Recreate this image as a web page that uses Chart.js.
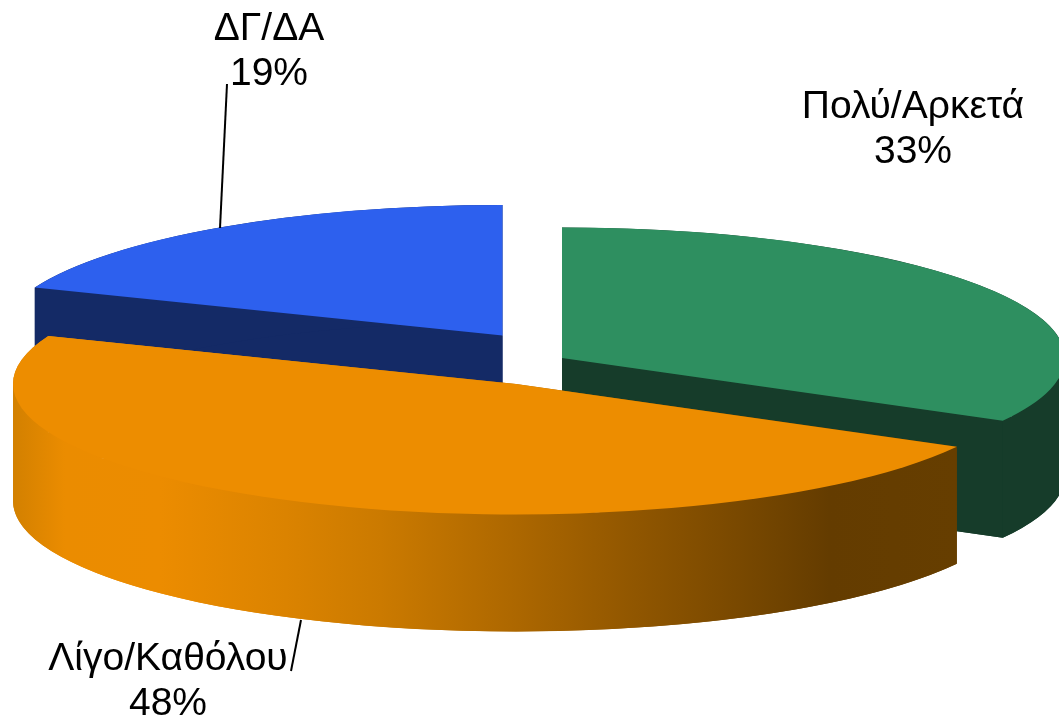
<!DOCTYPE html>
<html>
<head>
<meta charset="utf-8">
<style>html,body{margin:0;padding:0;background:#fff}canvas{display:block}</style>
<script src="https://cdn.jsdelivr.net/npm/chart.js@4"></script>
</head>
<body>
<canvas id="c" width="1059" height="719"></canvas>
<script>
const categories = ['Πολύ/Αρκετά', 'Λίγο/Καθόλου', 'ΔΓ/ΔΑ'];
const values = [33, 48, 19];
const topColors = ['#2E8F60', '#ED8D00', '#2D60EE'];
const wallColors = ['#163C2A', null, '#142A66'];

// 3D look of the drawing (style, not data)
const RX = 503, RY = 130.5, DEPTH = 117;
const sliceCentres = [[562, 358], [516, 384], [502.5, 335.5]];
const paintOrder = [0, 2, 1];
const labelAnchors = [
  {x: 913, y: 118, lead: null},
  {x: 168, y: 670, lead: [[301, 620], [291, 671]]},
  {x: 269, y: 40, lead: [[227, 84], [220, 228]]}
];
const LINE_GAP = 45;

function orangeWall(ctx) {
  const g = ctx.createLinearGradient(12, 0, 957, 0);
  [[0, '#D28000'], [0.056, '#EB8C00'], [0.157, '#EC8C00'], [0.29, '#DB8300'], [0.39, '#CB7A00'],
   [0.527, '#AE6800'], [0.66, '#905600'], [0.797, '#734500'], [0.865, '#643C00'], [1, '#663E00']]
    .forEach(s => g.addColorStop(s[0], s[1]));
  return g;
}

const pie3d = {
  id: 'pie3d',
  beforeDatasetsDraw(chart) {
    const ctx = chart.ctx;
    const arcs = chart.getDatasetMeta(0).data;
    paintOrder.forEach(i => {
      const arc = arcs[i];
      const [cx, cy] = sliceCentres[i];
      const a0 = arc.startAngle, a1 = arc.endAngle;
      const px = a => cx + RX * Math.cos(a), py = a => cy + RY * Math.sin(a);
      ctx.save();
      ctx.fillStyle = wallColors[i] || orangeWall(ctx);
      // lower face
      ctx.beginPath();
      ctx.moveTo(cx, cy + DEPTH);
      ctx.ellipse(cx, cy + DEPTH, RX, RY, 0, a0, a1);
      ctx.closePath();
      ctx.fill();
      // radial cut faces
      [a0, a1].forEach(a => {
        ctx.beginPath();
        ctx.moveTo(cx, cy);
        ctx.lineTo(px(a), py(a));
        ctx.lineTo(px(a), py(a) + DEPTH);
        ctx.lineTo(cx, cy + DEPTH);
        ctx.closePath();
        ctx.fill();
      });
      // rim, split where the ellipse turns back horizontally
      const cuts = [a0];
      for (let k = Math.ceil(a0 / Math.PI); k * Math.PI < a1; k++) {
        if (k * Math.PI > a0) cuts.push(k * Math.PI);
      }
      cuts.push(a1);
      for (let n = 0; n < cuts.length - 1; n++) {
        ctx.beginPath();
        ctx.ellipse(cx, cy, RX, RY, 0, cuts[n], cuts[n + 1]);
        ctx.ellipse(cx, cy + DEPTH, RX, RY, 0, cuts[n + 1], cuts[n], true);
        ctx.closePath();
        ctx.fill();
      }
      ctx.restore();
      // top face: the library's own arc element, flattened
      ctx.save();
      ctx.translate(cx, cy);
      ctx.scale(RX / arc.outerRadius, RY / arc.outerRadius);
      ctx.translate(-arc.x, -arc.y);
      arc.draw(ctx);
      ctx.restore();
    });
    return false;
  },
  afterDraw(chart) {
    const ctx = chart.ctx;
    ctx.save();
    ctx.fillStyle = '#000';
    ctx.strokeStyle = '#000';
    ctx.lineWidth = 2;
    ctx.font = '39px "Liberation Sans"';
    ctx.textAlign = 'center';
    ctx.textBaseline = 'alphabetic';
    categories.forEach((name, i) => {
      const a = labelAnchors[i];
      ctx.fillText(name, a.x, a.y);
      ctx.fillText(values[i] + '%', a.x, a.y + LINE_GAP);
      if (a.lead) {
        ctx.beginPath();
        ctx.moveTo(a.lead[0][0], a.lead[0][1]);
        ctx.lineTo(a.lead[1][0], a.lead[1][1]);
        ctx.stroke();
      }
    });
    ctx.restore();
  }
};

new Chart(document.getElementById('c'), {
  type: 'pie',
  data: {
    labels: categories,
    datasets: [{data: values, backgroundColor: topColors, borderWidth: 0}]
  },
  options: {
    responsive: false,
    animation: false,
    layout: {padding: 0},
    plugins: {legend: {display: false}, tooltip: {enabled: false}, title: {display: false}}
  },
  plugins: [pie3d]
});
</script>
</body>
</html>
